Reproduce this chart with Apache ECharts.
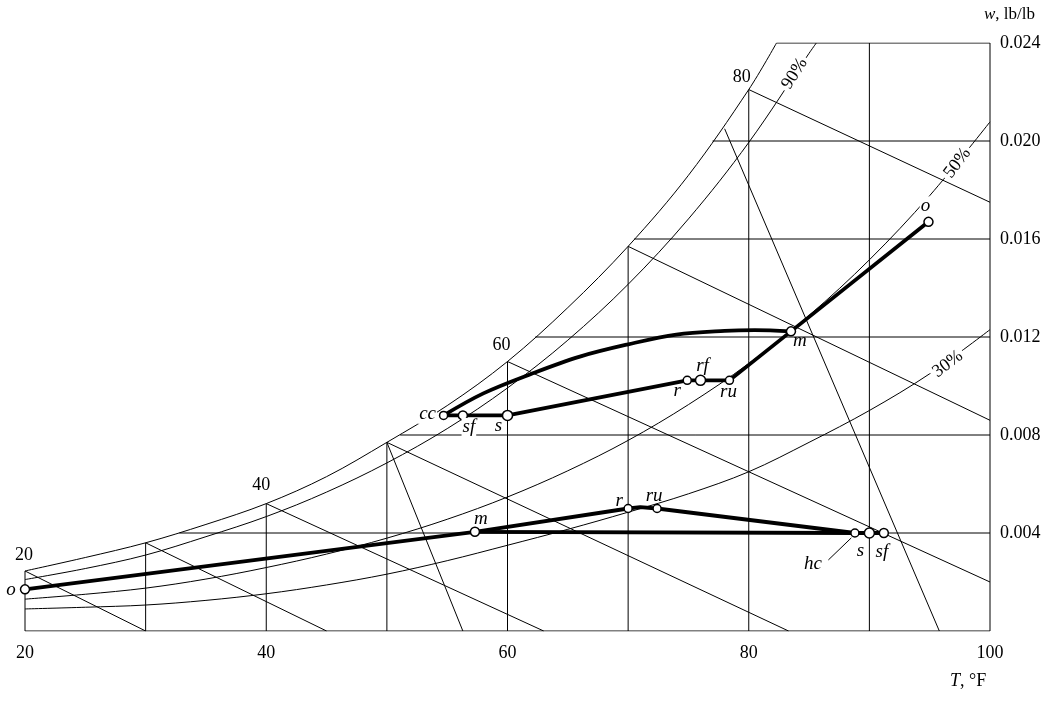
<!DOCTYPE html>
<html><head><meta charset="utf-8">
<script src="https://cdn.jsdelivr.net/npm/echarts@6/dist/echarts.min.js"></script>
<style>html,body{margin:0;padding:0;background:#fff}#c{width:1059px;height:702px}</style>
</head><body><div id="c"></div>
<script>
// ---- background psychrometric curves ----
const satT = [20,25,30,35,40,45,50,55,60,65,70,75,80,82.3];
const satW = [0.00245,0.0030,0.0036,0.00435,0.0052,0.0063,0.0077,0.0092,0.0110,0.0132,0.0157,0.0186,0.0221,0.0240];
const rh90T = [20,25,30,35,40,45,50,55,60,65,70,75,80,85,85.6];
const rh90W = [0.0021,0.00255,0.0031,0.00385,0.00467,0.00567,0.00686,0.00826,0.00992,0.01187,0.01415,0.01682,0.01994,0.02358,0.0240];
const rhT = [20,25,30,35,40,45,50,55,60,65,70,75,80,85,90,95,100];
const rh50W = [0.0013,0.0015,0.00175,0.00212,0.00259,0.00314,0.00379,0.00456,0.00547,0.00654,0.00778,0.00924,0.01092,0.01288,0.01515,0.01777,0.02078];
const rh30W = [0.0009,0.00097,0.00106,0.00125,0.00152,0.00188,0.00232,0.00287,0.0035,0.00415,0.00485,0.0056,0.0065,0.0077,0.0090,0.0105,0.0123];
// wet-bulb lines: start on saturation at these T, end points
const wbT = [20,30,40,50,60,70,80];
const wbEndT = [30,45,63,83.3,100,100,100];
const wbEndW = [0,0,0,0,0.0020,0.0086,0.0175];
// specific-volume lines
const volStartT = [50,78.0];
const volStartW = [0.0077,0.0205];
const volEndT = [56.3,95.8];
const volEndW = [0,0];
// chart grid lines
const vGridT = [20,30,40,50,60,70,80,90,100];
const hGridW = [0.004,0.008,0.012,0.016,0.020,0.024];
const hGridStartT = [32.8,51.1,62.3,70.5,77.0,82.3];
// curve labels
const tLabels = [20,40,60,80];
const rhLabelText = ['90%','50%','30%'];
const rhLabelT = [83.8,97.3,96.5];
const rhLabelW = [0.02275,0.0191,0.0109];
// x / y tick labels
const xTicks = [20,40,60,80,100];
const yTicks = [0.004,0.008,0.012,0.016,0.020,0.024];

// ---- process states ----
const sumNames = ['o','m','ru','rf','r','s','sf','cc'];
const sumT = [94.9,83.5,78.4,76.0,74.9,60.0,56.3,54.7];
const sumW = [0.0167,0.01223,0.01023,0.01023,0.01023,0.0088,0.0088,0.0088];
const coilT = [54.7,58,62,66,70,74,78,80.5,83.5];
const coilW = [0.0088,0.0097,0.0105,0.0112,0.0117,0.0121,0.01225,0.01228,0.01223];
const winNames = ['o','m','r','','ru','hc','s','sf'];
const winT = [20,57.3,70.0,71.0,72.4,88.8,90.0,91.2];
const winW = [0.0017,0.00405,0.0050,0.00506,0.0050,0.0040,0.0040,0.0040];
const heatT = [57.3,88.8];
const heatW = [0.00405,0.0040];
const leaderT = [86.6,88.5];
const leaderW = [0.0029,0.0038];

// ---- styles ----
const FONT = 'Liberation Serif, Times New Roman, serif';
const sumLabelOff = {o:[-3,-16], m:[9,10], ru:[-1,12], rf:[2,-14], r:[-10,11], s:[-9,11], sf:[6,12], cc:[-16,-1]};
const sumLabelBg = {o:true, cc:true, sf:true};
const winLabelOff = {o:[-14,1], m:[6,-13], r:[-9,-8], ru:[-3,-13], hc:[-42,31], s:[-9,18], sf:[-2,19]};
const markSize = {o:9, m:9, ru:8, rf:10, r:8, s:10, sf:9, cc:8, hc:8};
const tLabelOff = [[-1,-16],[-5,-18],[-6,-16],[-7,-12]];
const rhRot = [58,53,37];

const zip = (a,b) => a.map((v,i) => [v,b[i]]);
const satAt = t => satW[satT.indexOf(t)];
const series = [];
function line(data, width, opts) {
  series.push(Object.assign({
    type:'line', data, symbol:'none', silent:true, animation:false,
    lineStyle:{color:'#000', width:width}, z:2
  }, opts||{}));
}
// grid lines
vGridT.forEach(t => line([[t,0],[t, t<=80 ? satAt(t) : 0.024]], 1));
hGridW.forEach((w,i) => line([[hGridStartT[i],w],[100,w]], 1));
line([[20,0],[100,0]], 1);
// saturation & RH curves
const curveOpts = {smooth:0.35};
line(zip(satT,satW), 1, curveOpts);
line(zip(rh90T,rh90W), 1, curveOpts);
line(zip(rhT,rh50W), 1, curveOpts);
line(zip(rhT,rh30W), 1, curveOpts);
// wet-bulb lines
wbT.forEach((t,i) => line([[t,satAt(t)],[wbEndT[i],wbEndW[i]]], 1));
// volume lines
volStartT.forEach((t,i) => line([[t,volStartW[i]],[volEndT[i],volEndW[i]]], 1));
// hc leader
line(zip(leaderT,leaderW), 1);
// process lines
const thick = {lineStyle:{color:'#000', width:3.8, join:'round'}, z:5};
line(zip(sumT,sumW), 3.8, thick);
line(zip(coilT,coilW), 3.8, Object.assign({smooth:0.35}, thick));
line(zip(winT,winW), 3.8, thick);
line(zip(heatT,heatW), 3.8, thick);

// markers with labels
function markers(names, T, W, offs, bgs) {
  const data = [];
  names.forEach((n,i) => {
    if (!n) return;
    data.push({
      value:[T[i],W[i]], symbolSize: markSize[n] || 8,
      label:{show:true, formatter:n, position:'inside', offset:offs[n],
        fontFamily:FONT, fontStyle:'italic', fontSize:19, color:'#000',
        backgroundColor: (bgs && bgs[n]) ? '#fff' : 'transparent', padding:[0,1]}
    });
  });
  series.push({type:'scatter', data, symbol:'circle', silent:true, animation:false, z:8,
    itemStyle:{color:'#fff', borderColor:'#000', borderWidth:1.5, opacity:1}});
}
markers(sumNames, sumT, sumW, sumLabelOff, sumLabelBg);
markers(winNames, winT, winW, winLabelOff, null);

// temperature labels on saturation curve
series.push({type:'scatter', silent:true, animation:false, z:6, symbolSize:0,
  itemStyle:{opacity:1, color:'#000'},
  data: tLabels.map((t,i) => ({value:[t,satAt(t)], label:{show:true, formatter:String(t),
    position:'inside', offset:tLabelOff[i], fontFamily:FONT, fontSize:18, color:'#000'}}))});
// RH labels
series.push({type:'scatter', silent:true, animation:false, z:6, symbolSize:0,
  itemStyle:{opacity:1, color:'#000'},
  data: rhLabelText.map((s,i) => ({value:[rhLabelT[i],rhLabelW[i]], label:{show:true, formatter:s,
    position:'inside', rotate:rhRot[i], fontFamily:FONT, fontSize:18, color:'#000',
    backgroundColor:'#fff', padding:[0,3]}}))});

const chart = echarts.init(document.getElementById('c'), null, {renderer:'canvas'});
chart.setOption({
  animation:false,
  backgroundColor:'#fff',
  grid:{left:25, right:69, top:43, bottom:71, containLabel:false},
  xAxis:{type:'value', min:20, max:100, interval:20,
    axisLine:{show:false}, axisTick:{show:false}, splitLine:{show:false},
    axisLabel:{fontFamily:FONT, fontSize:18, color:'#000', margin:13,
      formatter: v => xTicks.includes(v) ? String(v) : ''}},
  yAxis:{type:'value', position:'right', min:0, max:0.024, interval:0.004,
    axisLine:{show:false}, axisTick:{show:false}, splitLine:{show:false},
    axisLabel:{fontFamily:FONT, fontSize:18, color:'#000', margin:10,
      formatter: v => yTicks.some(t => Math.abs(t-v)<1e-9) ? v.toFixed(3) : ''}},
  graphic:[
    {type:'text', left:984, top:6, style:{text:'{i|w}, lb/lb', fontFamily:FONT, fontSize:17, fill:'#000',
      rich:{i:{fontStyle:'italic', fontFamily:FONT, fontSize:17}}}},
    {type:'text', left:950, top:672, style:{text:'{i|T}, °F', fontFamily:FONT, fontSize:18, fill:'#000',
      rich:{i:{fontStyle:'italic', fontFamily:FONT, fontSize:18}}}}
  ],
  series
});
</script></body></html>
